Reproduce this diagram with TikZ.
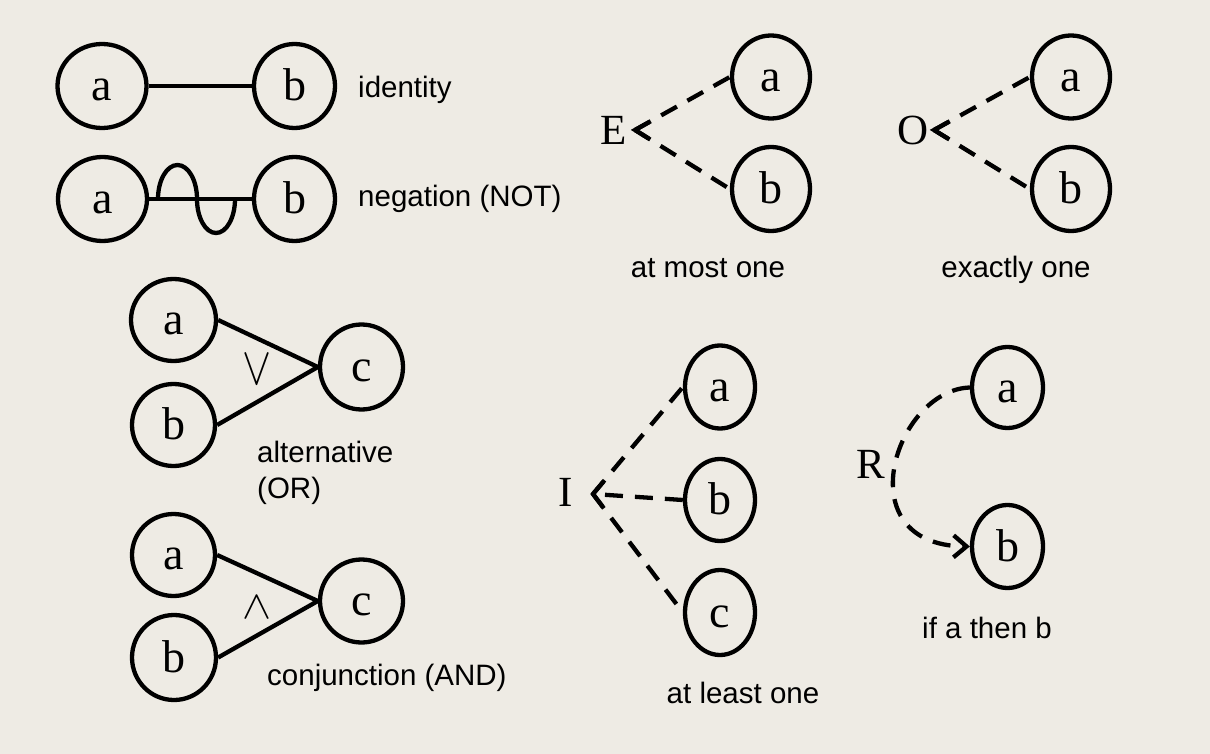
\documentclass[tikz,border=0pt]{standalone}
\usepackage{fontspec}
\setmainfont{Liberation Serif}
\setsansfont{Liberation Sans}
\usetikzlibrary{shapes.geometric,arrows.meta,calc}
\definecolor{bg}{RGB}{238,235,228}
\begin{document}
\begin{tikzpicture}[x=1pt,y=-1pt,
  circ/.style={ellipse, draw, line width=4.3pt, inner sep=0pt, text height=29pt, text depth=0pt, font=\fontsize{46}{46}\selectfont},
  solidline/.style={line width=4.3pt},
  dashline/.style={line width=4.3pt, dash pattern=on 18pt off 12pt},
  chev/.style={line width=4.3pt, line join=miter},
  lab/.style={font=\sffamily\fontsize{29.5}{36}\selectfont, inner sep=0pt},
  big/.style={font=\fontsize{43}{43}\selectfont, inner sep=0pt},
  opsym/.style={font=\fontsize{24.88}{30}\selectfont, inner sep=0pt}
]
\fill[bg] (0,0) rectangle (1210,754);
\useasboundingbox (0,0) rectangle (1210,754);

% identity
\node[circ, minimum width=89pt, minimum height=84pt] (ia) at (102,86) {a};
\node[circ, minimum width=81pt, minimum height=84pt] (ib) at (294.5,86) {b};
\draw[solidline] (ia) -- (ib);
\node[lab, anchor=base west] (il) at (358,98) {identity};

% negation
\node[circ, minimum width=89pt, minimum height=84pt] (na) at (102.5,199) {a};
\node[circ, minimum width=81pt, minimum height=84pt] (nb) at (294.5,199) {b};
\draw[solidline] (na) -- (nb);
\coordinate (w0) at (158,199);
\draw[solidline] (w0) arc[start angle=180,end angle=360,x radius=19.5,y radius=34]
  arc[start angle=180,end angle=0,x radius=19,y radius=34];
\node[lab, anchor=base west] (nl) at (358,207) {negation (NOT)};

% E: at most one
\node[big] (E) at (614,130) {E};
\coordinate (Ev) at (635,130);
\node[circ, minimum width=78pt, minimum height=83pt] (Ea) at (771,77) {a};
\node[circ, minimum width=78pt, minimum height=84pt] (Eb) at (771,189) {b};
\draw[dashline] (Ev) -- (Ea.west);
\draw[dashline] (Ev) -- (Eb.west);
\draw[chev] ($(Ev)!16pt!(Ea.west)$) -- (Ev) -- ($(Ev)!16pt!(Eb.west)$);
\node[lab, anchor=base] (El) at (708,277) {at most one};

% O: exactly one
\node[big] (O) at (913,130) {O};
\coordinate (Ov) at (934,130);
\node[circ, minimum width=78pt, minimum height=83pt] (Oa) at (1071,77) {a};
\node[circ, minimum width=78pt, minimum height=84pt] (Ob) at (1071,189) {b};
\draw[dashline] (Ov) -- (Oa.west);
\draw[dashline] (Ov) -- (Ob.west);
\draw[chev] ($(Ov)!16pt!(Oa.west)$) -- (Ov) -- ($(Ov)!16pt!(Ob.west)$);
\node[lab, anchor=base] (Ol) at (1016,277) {exactly one};

% OR
\node[circ, minimum width=85pt, minimum height=82pt] (ora) at (173.5,320) {a};
\node[circ, minimum width=83pt, minimum height=82pt] (orb) at (173.5,425) {b};
\node[circ, minimum width=83pt, minimum height=85pt] (orc) at (361.5,367) {c};
\draw[solidline, line join=round] (ora.east) -- (orc.west) -- (orb.east);
\node[opsym] (orsym) at (257,370) {\scalebox{1.75}[2.15]{$\vee$}};
\node[lab, anchor=base west] (orl1) at (257,462) {alternative};
\node[lab, anchor=base west] (orl2) at (257,498) {(OR)};

% AND
\node[circ, minimum width=83pt, minimum height=82pt] (anda) at (173.5,555) {a};
\node[circ, minimum width=84pt, minimum height=85pt] (andb) at (174,657.5) {b};
\node[circ, minimum width=83pt, minimum height=83pt] (andc) at (361.5,601) {c};
\draw[solidline, line join=round] (anda.east) -- (andc.west) -- (andb.east);
\node[opsym] (andsym) at (257,607) {\scalebox{1.75}[1.6]{$\wedge$}};
\node[lab, anchor=base west] (andl) at (267,685) {conjunction (AND)};

% I: at least one
\node[big] (I) at (566,492) {I};
\coordinate (Iv) at (593,494);
\node[circ, minimum width=70pt, minimum height=83pt] (Ia) at (720,387) {a};
\node[circ, minimum width=70pt, minimum height=82pt] (Ib) at (720,500) {b};
\node[circ, minimum width=70pt, minimum height=85pt] (Ic) at (720,612.5) {c};
\draw[dashline] (Iv) -- (Ia.west);
\draw[dashline] (Iv) -- (Ic.west);
\draw[dashline, dash phase=18pt] (Iv) -- (Ib.west);
\draw[chev] ($(Iv)!16pt!(Ia.west)$) -- (Iv) -- ($(Iv)!16pt!(Ic.west)$);
\node[lab, anchor=base] (Il) at (743,703) {at least one};

% R: if a then b
\node[big] (R) at (871,464) {R};
\node[circ, minimum width=71pt, minimum height=81pt] (Ra) at (1007.5,387.5) {a};
\node[circ, minimum width=71pt, minimum height=83pt] (Rb) at (1007.5,546.5) {b};
\draw[dashline, -{Straight Barb[length=13pt,width=22pt]}] (Ra.west) .. controls (895,390) and (845,545) .. (Rb.west);
\node[lab, anchor=base] (Rl) at (987,638) {if a then b};
\end{tikzpicture}
\end{document}
